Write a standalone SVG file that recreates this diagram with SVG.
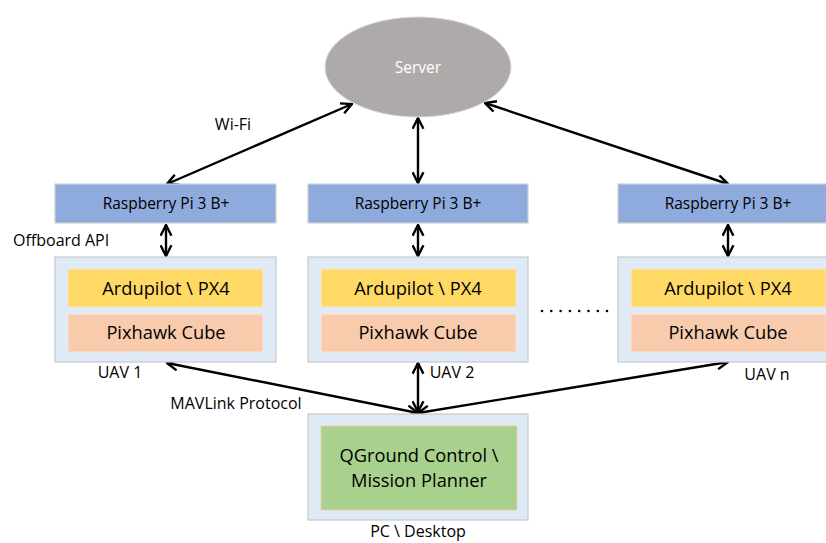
<svg xmlns="http://www.w3.org/2000/svg" width="826" height="543" viewBox="0 0 826 543">
<defs>
<marker id="ah" viewBox="0 0 12 12" refX="11" refY="6" markerWidth="13" markerHeight="13" markerUnits="userSpaceOnUse" orient="auto-start-reverse">
<path d="M1,1 L11,6 L1,11" fill="none" stroke="#000" stroke-width="2.2" stroke-linejoin="miter"/>
</marker>
<style>
text{font-family:"Open Sans","Liberation Sans",sans-serif;fill:#000;text-anchor:middle}
.rpi{fill:#8FAADC;stroke:#D0D0D0;stroke-width:1.2}
.cont{fill:#DEEBF7;stroke:#C8C8C8;stroke-width:1.2}
.ard{fill:#FFD966;stroke:#FBE5D6;stroke-width:1}
.pix{fill:#F8CBAD;stroke:#FBE5D6;stroke-width:1}
.qgc{fill:#A9D18E;stroke:#F4C9A8;stroke-width:1}
.t14{font-size:15.5px}
.t17{font-size:18.3px}
.lbl{font-size:16px}
.con{stroke:#000;stroke-width:2.4;fill:none;marker-start:url(#ah);marker-end:url(#ah)}
</style>
</defs>
<rect width="826" height="543" fill="#fff"/>
<g id="connectors">
<line class="con" x1="352" y1="104" x2="167" y2="184"/>
<line class="con" x1="418" y1="118" x2="418" y2="183"/>
<line class="con" x1="485" y1="103" x2="728" y2="184"/>
<line class="con" x1="166" y1="225" x2="166" y2="256"/>
<line class="con" x1="418" y1="225" x2="418" y2="256"/>
<line class="con" x1="728" y1="225" x2="728" y2="256"/>
<line class="con" x1="418" y1="363" x2="418" y2="412"/>
<line class="con" x1="167" y1="363" x2="418" y2="413"/>
<line class="con" x1="728" y1="362" x2="418" y2="413"/>
</g>
<g id="server">
<ellipse cx="418" cy="67" rx="93" ry="50" fill="#AEAAAA" stroke="#D9D9D9" stroke-width="1"/>
<text x="418" y="73" class="t14" style="fill:#fff">Server</text>
</g>
<g id="rpi1"><rect class="rpi" x="55" y="184" width="221" height="39"/><text x="166" y="209" class="t14">Raspberry Pi 3 B+</text></g>
<g id="rpi2"><rect class="rpi" x="308" y="184" width="220" height="39"/><text x="418" y="209" class="t14">Raspberry Pi 3 B+</text></g>
<g id="rpin"><rect class="rpi" x="618" y="184" width="220" height="39"/><text x="728" y="209" class="t14">Raspberry Pi 3 B+</text></g>
<g id="uav1">
<rect class="cont" x="55" y="257" width="221" height="105"/>
<rect class="ard" x="68" y="269" width="195" height="38"/><text x="166" y="295" class="t17">Ardupilot \ PX4</text>
<rect class="pix" x="68" y="314" width="195" height="38"/><text x="166" y="339" class="t17">Pixhawk Cube</text>
</g>
<g id="uav2">
<rect class="cont" x="308" y="257" width="220" height="105"/>
<rect class="ard" x="321" y="269" width="195" height="38"/><text x="418" y="295" class="t17">Ardupilot \ PX4</text>
<rect class="pix" x="321" y="314" width="195" height="38"/><text x="418" y="339" class="t17">Pixhawk Cube</text>
</g>
<g id="uavn">
<rect class="cont" x="618" y="257" width="220" height="105"/>
<rect class="ard" x="631" y="269" width="195" height="38"/><text x="728" y="295" class="t17">Ardupilot \ PX4</text>
<rect class="pix" x="631" y="314" width="195" height="38"/><text x="728" y="339" class="t17">Pixhawk Cube</text>
</g>
<g id="gcs">
<rect class="cont" x="308" y="414" width="220" height="106"/>
<rect class="qgc" x="321" y="426" width="196" height="84"/>
<text x="419" y="462" class="t17">QGround Control \</text>
<text x="419" y="487" class="t17">Mission Planner</text>
</g>
<g id="labels">
<text x="233" y="130" class="lbl">Wi-Fi</text>
<text x="13" y="246" class="lbl" style="text-anchor:start">Offboard API</text>
<text x="120" y="378" class="lbl">UAV 1</text>
<text x="452" y="378" class="lbl">UAV 2</text>
<text x="767" y="380" class="lbl">UAV n</text>
<text x="236" y="409" class="lbl">MAVLink Protocol</text>
<text x="418" y="537" class="lbl">PC \ Desktop</text>
<g fill="#000">
<circle cx="542" cy="311" r="1.3"/><circle cx="551.3" cy="311" r="1.3"/><circle cx="560.6" cy="311" r="1.3"/><circle cx="569.9" cy="311" r="1.3"/><circle cx="579.2" cy="311" r="1.3"/><circle cx="588.5" cy="311" r="1.3"/><circle cx="597.8" cy="311" r="1.3"/><circle cx="607" cy="311" r="1.3"/>
</g>
</g>
</svg>
